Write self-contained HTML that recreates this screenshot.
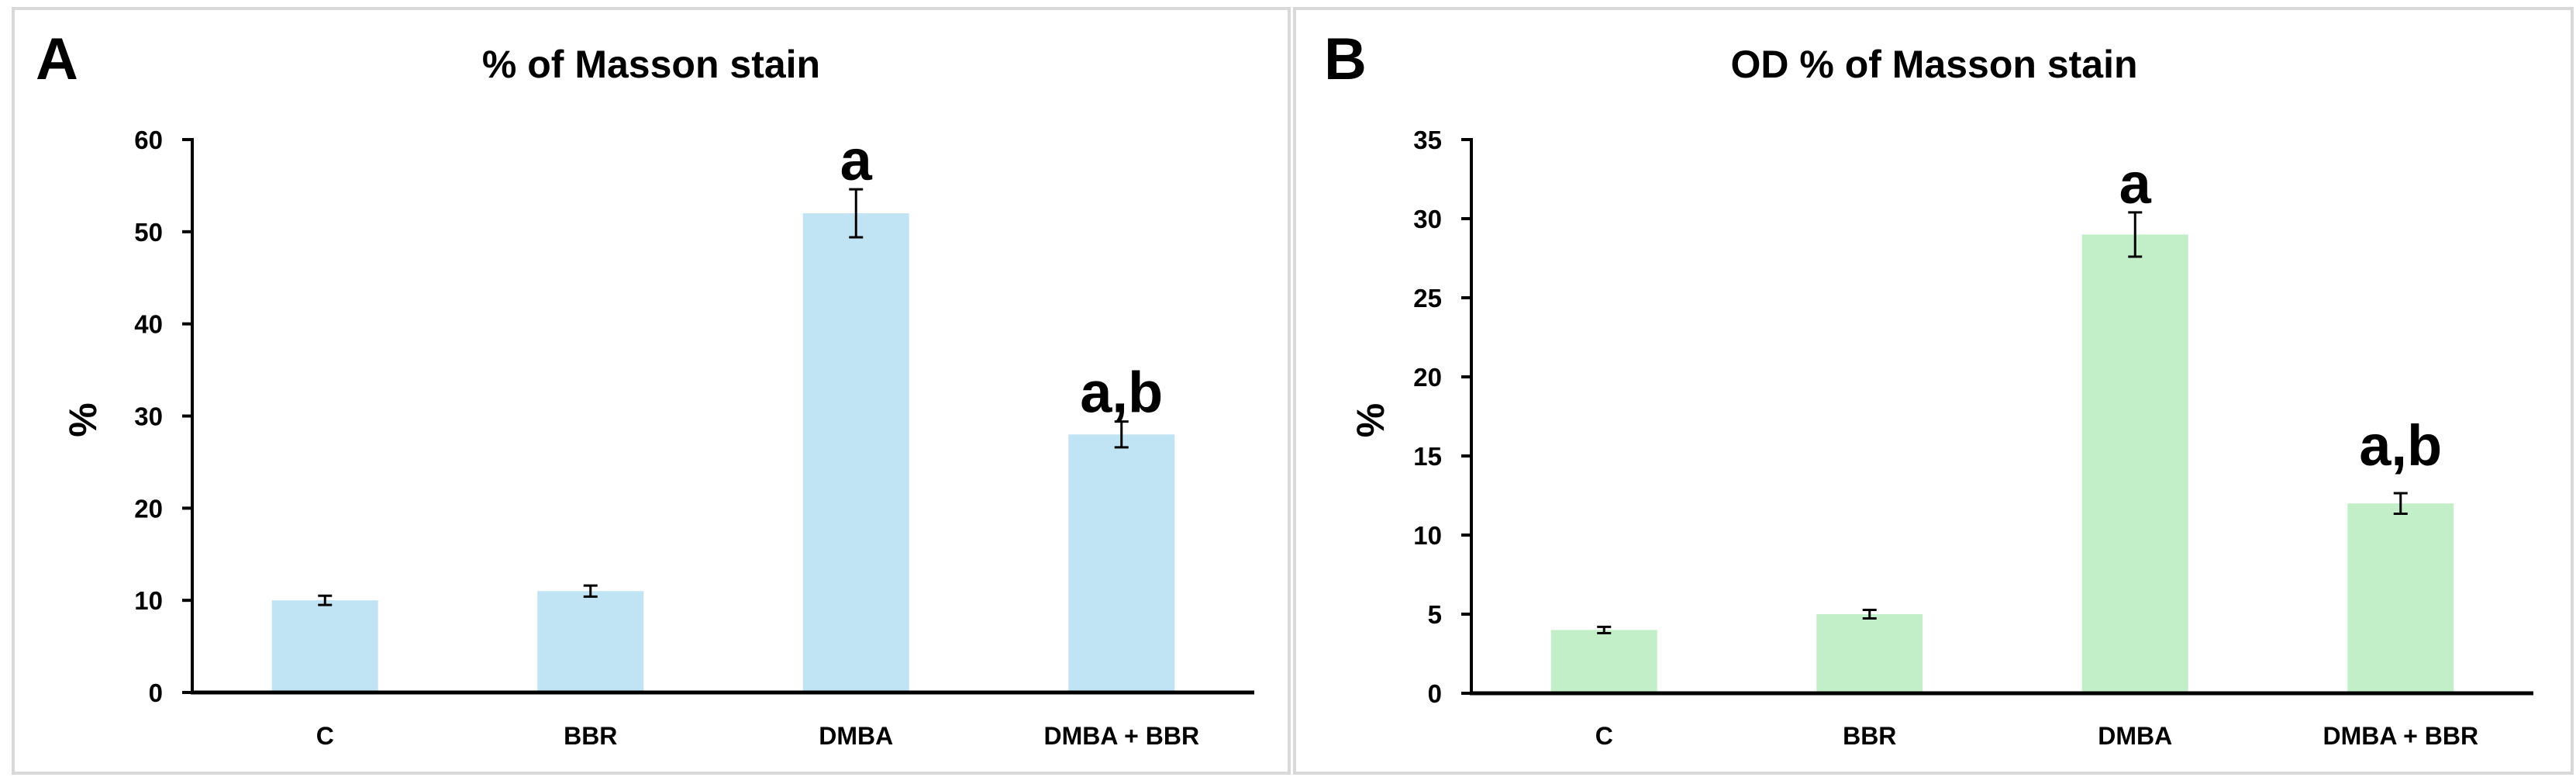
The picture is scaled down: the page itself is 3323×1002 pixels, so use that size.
<!DOCTYPE html>
<html><head><meta charset="utf-8"><style>
html,body{margin:0;padding:0;background:#fff}
svg{display:block}
text{font-family:"Liberation Sans",Arial,sans-serif;font-weight:bold;fill:#000}
</style></head><body>
<svg id="fig" width="3323" height="1002" viewBox="0 0 3323 1002" xmlns="http://www.w3.org/2000/svg">
<rect x="0" y="0" width="3323" height="1002" fill="#fff"/>
<rect x="17" y="11" width="1646" height="986" fill="none" stroke="#d9d9d9" stroke-width="4"/>
<rect x="1670" y="11" width="1648" height="986" fill="none" stroke="#d9d9d9" stroke-width="4"/>
<g id="pa"></g>
<g id="pb"></g>
</svg>
<script>
const categories = ["C","BBR","DMBA","DMBA + BBR"];
const valuesA = [10, 11, 52, 28];
const errorsA = [0.5, 0.6, 2.6, 1.4];
const lettersA = ["", "", "a", "a,b"];
const ticksA = [0,10,20,30,40,50,60];
const valuesB = [4, 5, 29, 12];
const errorsB = [0.2, 0.27, 1.4, 0.65];
const lettersB = ["", "", "a", "a,b"];
const ticksB = [0,5,10,15,20,25,30,35];

const NS = "http://www.w3.org/2000/svg";
function mk(parent, tag, attrs, txt) {
  const e = document.createElementNS(NS, tag);
  for (const k in attrs) e.setAttribute(k, attrs[k]);
  if (txt !== undefined) e.textContent = txt;
  parent.appendChild(e);
  return e;
}
function drawPanel(g, cfg) {
  const {x0, x1, y0, yTop, max, values, errors, letters, ticks, color, title, titleX, panelLetter, letterX, yTitleX, labelGap} = cfg;
  const y = v => y0 - (v / max) * (y0 - yTop);
  const band = (x1 - x0) / categories.length;
  const xc = i => x0 + band * (i + 0.5);
  const bw = 137;

  let t = mk(g, "text", {x: letterX, y: 102, "font-size": 76});
  t.textContent = panelLetter;
  
  

  t = mk(g, "text", {x: titleX, y: 100, "font-size": 50, "text-anchor": "middle"}, title);
  
  

  t = mk(g, "text", {x: 0, y: 0, "font-size": 50, "text-anchor": "middle", transform: `translate(${yTitleX},${(y0 + yTop) / 2 + 5}) rotate(-90)`}, "%");
  
  

  values.forEach((v, i) => {
    const r = mk(g, "rect", {x: xc(i) - bw / 2, y: y(v), width: bw, height: y0 - y(v), fill: color});
    
    
    const hi = y(v + errors[i]), lo = y(v - errors[i]);
    const eb = mk(g, "g", {stroke: "#000", "stroke-width": 3});
    
    
    mk(eb, "line", {x1: xc(i), x2: xc(i), y1: hi, y2: lo});
    mk(eb, "line", {x1: xc(i) - 9, x2: xc(i) + 9, y1: hi, y2: hi});
    mk(eb, "line", {x1: xc(i) - 9, x2: xc(i) + 9, y1: lo, y2: lo});
    if (letters[i]) {
      const gap = letters[i].length > 1 ? labelGap : 12;
      const l = mk(g, "text", {x: xc(i), y: hi - gap, "font-size": 74, "text-anchor": "middle"}, letters[i]);
      
      
    }
    const c = mk(g, "text", {x: xc(i), y: 960, "font-size": 32, "text-anchor": "middle"}, categories[i]);
    
    
  });

  ticks.forEach(tv => {
    const tl = mk(g, "line", {x1: x0 - 13, x2: x0, y1: y(tv), y2: y(tv), stroke: "#000", "stroke-width": 4});
    
    
    const lb = mk(g, "text", {x: x0 - 38, y: y(tv) + 12, "font-size": 33, "text-anchor": "end"}, String(tv));
    
    
  });
  const ya = mk(g, "line", {x1: x0, x2: x0, y1: yTop - 2, y2: y0 + 2, stroke: "#000", "stroke-width": 4});
  
  
  const xa = mk(g, "line", {x1: x0 - 2, x2: x1, y1: y0, y2: y0, stroke: "#000", "stroke-width": 5});
  
  
}
drawPanel(document.getElementById("pa"), {x0: 248, x1: 1618, y0: 893, yTop: 180, max: 60, values: valuesA, errors: errorsA, letters: lettersA, ticks: ticksA, color: "#c1e4f4", title: "% of Masson stain", titleX: 840, panelLetter: "A", letterX: 46, yTitleX: 124, labelGap: 12});
drawPanel(document.getElementById("pb"), {x0: 1898, x1: 3268, y0: 894, yTop: 180, max: 35, values: valuesB, errors: errorsB, letters: lettersB, ticks: ticksB, color: "#c3efc8", title: "OD % of Masson stain", titleX: 2495, panelLetter: "B", letterX: 1708, yTitleX: 1785, labelGap: 36});
</script>
</body></html>
